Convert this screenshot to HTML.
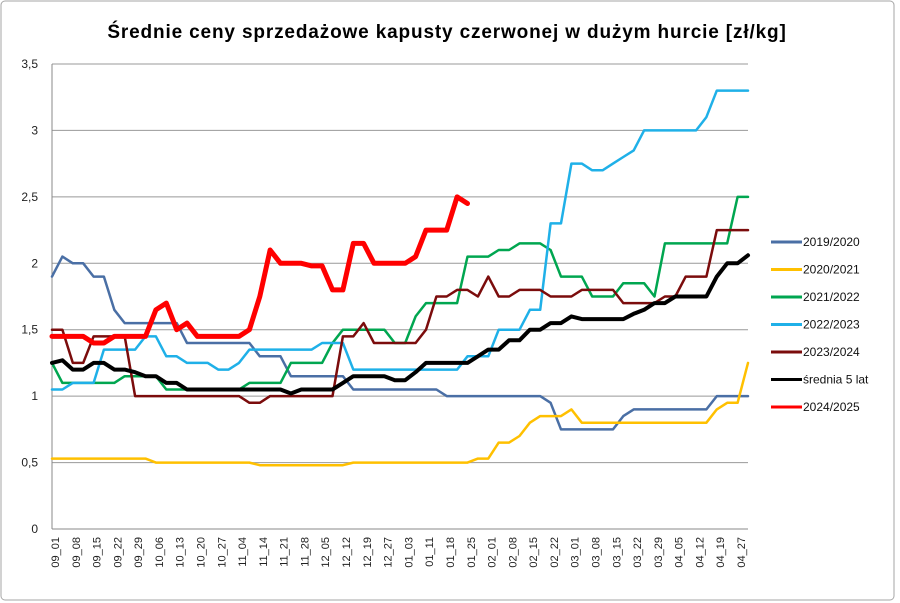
<!DOCTYPE html>
<html><head><meta charset="utf-8"><style>
body{margin:0;background:#fff;}
svg{display:block;font-family:"Liberation Sans",sans-serif;}
</style></head><body>
<svg id="chart" width="900" height="603" viewBox="0 0 900 603">
<rect x="1" y="1" width="893" height="599" rx="4" fill="#fff" stroke="#a6a6a6"/>
<text x="447" y="38" text-anchor="middle" font-size="19" font-weight="bold" letter-spacing="0.85">Średnie ceny sprzedażowe kapusty czerwonej w dużym hurcie [zł/kg]</text>
<g id="grid"></g><g id="series"></g><g id="legend"></g>
</svg>
<script>
const categories=["09_01","09_08","09_15","09_22","09_29","10_06","10_13","10_20","10_27","11_04","11_14","11_21","11_28","12_05","12_12","12_19","12_27","01_03","01_11","01_18","01_25","02_01","02_08","02_15","02_22","03_01","03_08","03_15","03_22","03_29","04_05","04_12","04_19","04_27"];
const yTicks=[0,0.5,1,1.5,2,2.5,3,3.5];
const yTickLabels=["0","0,5","1","1,5","2","2,5","3","3,5"];
const seriesNames=["2019/2020","2020/2021","2021/2022","2022/2023","2023/2024","średnia 5 lat","2024/2025"];
const seriesColors=["#4a6fa5","#ffc000","#00a650","#1fb0e8","#7b0c0c","#000000","#ff0000"];
const seriesWidths=[2.5,2.5,2.5,2.5,2.5,4,5];
const s2019=[1.9,2.05,2.0,2.0,1.9,1.9,1.65,1.55,1.55,1.55,1.55,1.55,1.55,1.4,1.4,1.4,1.4,1.4,1.4,1.4,1.3,1.3,1.3,1.15,1.15,1.15,1.15,1.15,1.15,1.05,1.05,1.05,1.05,1.05,1.05,1.05,1.05,1.05,1.0,1.0,1.0,1.0,1.0,1.0,1.0,1.0,1.0,1.0,0.95,0.75,0.75,0.75,0.75,0.75,0.75,0.85,0.9,0.9,0.9,0.9,0.9,0.9,0.9,0.9,1.0,1.0,1.0,1.0];
const s2020=[0.53,0.53,0.53,0.53,0.53,0.53,0.53,0.53,0.53,0.53,0.5,0.5,0.5,0.5,0.5,0.5,0.5,0.5,0.5,0.5,0.48,0.48,0.48,0.48,0.48,0.48,0.48,0.48,0.48,0.5,0.5,0.5,0.5,0.5,0.5,0.5,0.5,0.5,0.5,0.5,0.5,0.53,0.53,0.65,0.65,0.7,0.8,0.85,0.85,0.85,0.9,0.8,0.8,0.8,0.8,0.8,0.8,0.8,0.8,0.8,0.8,0.8,0.8,0.8,0.9,0.95,0.95,1.25];
const s2021=[1.25,1.1,1.1,1.1,1.1,1.1,1.1,1.15,1.15,1.15,1.15,1.05,1.05,1.05,1.05,1.05,1.05,1.05,1.05,1.1,1.1,1.1,1.1,1.25,1.25,1.25,1.25,1.4,1.5,1.5,1.5,1.5,1.5,1.4,1.4,1.6,1.7,1.7,1.7,1.7,2.05,2.05,2.05,2.1,2.1,2.15,2.15,2.15,2.1,1.9,1.9,1.9,1.75,1.75,1.75,1.85,1.85,1.85,1.75,2.15,2.15,2.15,2.15,2.15,2.15,2.15,2.5,2.5];
const s2022=[1.05,1.05,1.1,1.1,1.1,1.35,1.35,1.35,1.35,1.45,1.45,1.3,1.3,1.25,1.25,1.25,1.2,1.2,1.25,1.35,1.35,1.35,1.35,1.35,1.35,1.35,1.4,1.4,1.4,1.2,1.2,1.2,1.2,1.2,1.2,1.2,1.2,1.2,1.2,1.2,1.3,1.3,1.3,1.5,1.5,1.5,1.65,1.65,2.3,2.3,2.75,2.75,2.7,2.7,2.75,2.8,2.85,3.0,3.0,3.0,3.0,3.0,3.0,3.1,3.3,3.3,3.3,3.3];
const s2023=[1.5,1.5,1.25,1.25,1.45,1.45,1.45,1.45,1.0,1.0,1.0,1.0,1.0,1.0,1.0,1.0,1.0,1.0,1.0,0.95,0.95,1.0,1.0,1.0,1.0,1.0,1.0,1.0,1.45,1.45,1.55,1.4,1.4,1.4,1.4,1.4,1.5,1.75,1.75,1.8,1.8,1.75,1.9,1.75,1.75,1.8,1.8,1.8,1.75,1.75,1.75,1.8,1.8,1.8,1.8,1.7,1.7,1.7,1.7,1.75,1.75,1.9,1.9,1.9,2.25,2.25,2.25,2.25];
const sAvg=[1.25,1.27,1.2,1.2,1.25,1.25,1.2,1.2,1.18,1.15,1.15,1.1,1.1,1.05,1.05,1.05,1.05,1.05,1.05,1.05,1.05,1.05,1.05,1.02,1.05,1.05,1.05,1.05,1.1,1.15,1.15,1.15,1.15,1.12,1.12,1.18,1.25,1.25,1.25,1.25,1.25,1.3,1.35,1.35,1.42,1.42,1.5,1.5,1.55,1.55,1.6,1.58,1.58,1.58,1.58,1.58,1.62,1.65,1.7,1.7,1.75,1.75,1.75,1.75,1.9,2.0,2.0,2.06];
const s2024=[1.45,1.45,1.45,1.45,1.4,1.4,1.45,1.45,1.45,1.45,1.65,1.7,1.5,1.55,1.45,1.45,1.45,1.45,1.45,1.5,1.75,2.1,2.0,2.0,2.0,1.98,1.98,1.8,1.8,2.15,2.15,2.0,2.0,2.0,2.0,2.05,2.25,2.25,2.25,2.5,2.45];
const seriesData=[s2019,s2020,s2021,s2022,s2023,sAvg,s2024];
const NS="http://www.w3.org/2000/svg";
const X0=52,X1=748,Y0=529,YTOP=64,YMAX=3.5,NPTS=68;
function xPt(k){return X0+k*(X1-X0)/(NPTS-1);}
function xCat(i){return 55+i*(741-55)/(categories.length-1);}
function yV(v){return Y0-v*(Y0-YTOP)/YMAX;}
function mk(tag,attrs,parent){const e=document.createElementNS(NS,tag);for(const k in attrs)e.setAttribute(k,attrs[k]);parent.appendChild(e);return e;}
const grid=document.getElementById('grid');
yTicks.forEach((t,i)=>{
  const l=mk('line',{x1:X0,x2:X1,y1:yV(t),y2:yV(t),stroke:t===0?'#888':'#999','stroke-width':1},grid);
  
  
  const tx=mk('text',{x:38,y:yV(t)+4,'text-anchor':'end','font-size':12,fill:'#222'},grid);
  tx.textContent=yTickLabels[i];
  
  
});
const ax=mk('line',{x1:X0,x2:X0,y1:YTOP,y2:Y0,stroke:'#888'},grid);


categories.forEach((c,i)=>{
  const x=xCat(i);
  const t=mk('text',{x:0,y:0,'font-size':11,fill:'#222','text-anchor':'end',transform:`translate(${x+4},537) rotate(-90)`},grid);
  t.textContent=c;
  
  
});
const sg=document.getElementById('series');
seriesData.forEach((arr,si)=>{
  const pts=arr.map((v,k)=>xPt(k).toFixed(1)+','+yV(v).toFixed(1)).join(' ');
  const p=mk('polyline',{points:pts,fill:'none',stroke:seriesColors[si],'stroke-width':seriesWidths[si],'stroke-linejoin':'round','stroke-linecap':'round'},sg);
  
  
});
const lg=document.getElementById('legend');
seriesNames.forEach((n,i)=>{
  const y=242+27.5*i;
  const g=mk('g',{},lg);
  
  
  mk('line',{x1:771,x2:802,y1:y,y2:y,stroke:seriesColors[i],'stroke-width':3},g);
  const t=mk('text',{x:803,y:y+4,'font-size':12,fill:'#111'},g);
  t.textContent=n;
});
</script>
</body></html>
